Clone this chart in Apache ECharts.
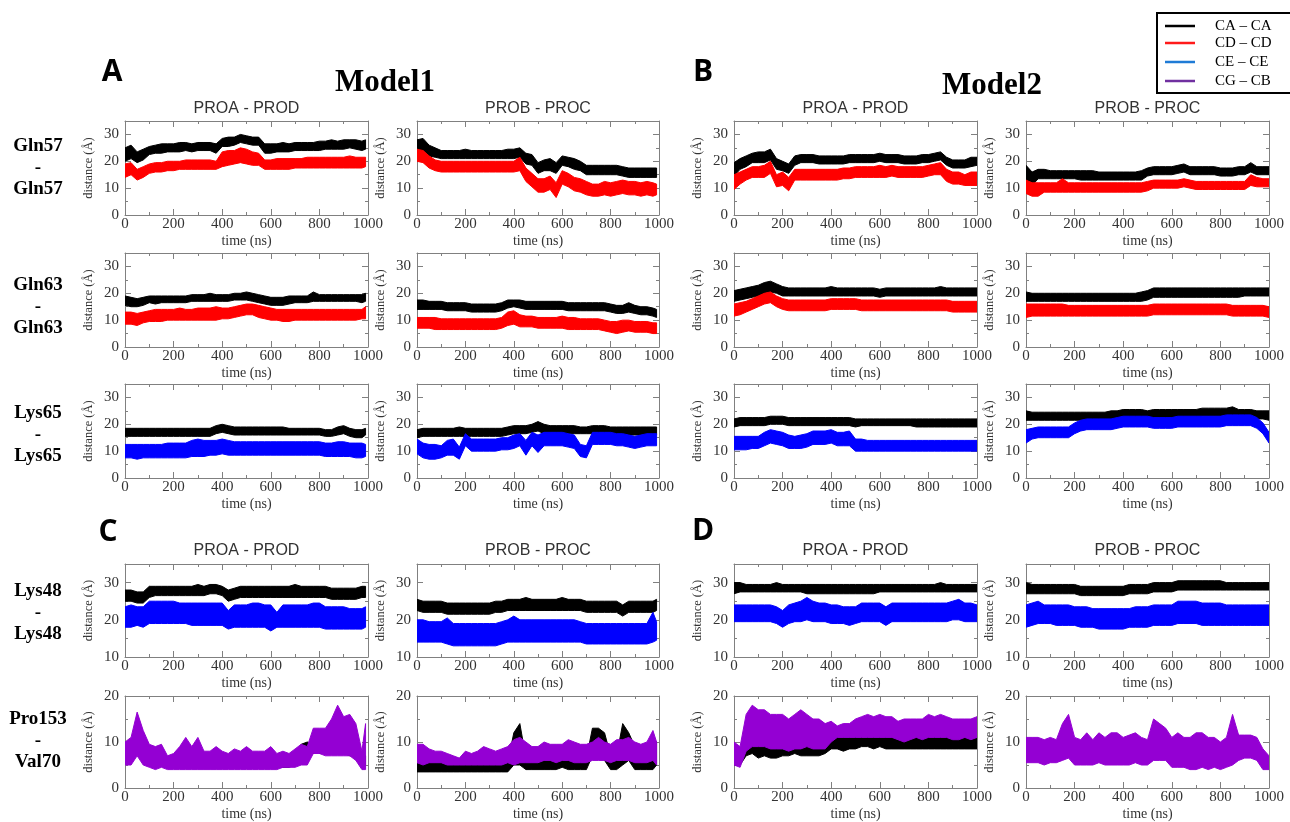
<!DOCTYPE html>
<html>
<head>
<meta charset="utf-8">
<title>Distance traces</title>
<script src="https://cdn.jsdelivr.net/npm/echarts@6/dist/echarts.min.js"></script>
<style>
  html, body { margin: 0; padding: 0; background: #fff; }
  #chart { width: 1290px; height: 822px; }
</style>
</head>
<body>
<div id="chart"></div>
<script>
// sample times (ns); Model1 runs stop a little before 1000
const timesM1 = [0,25,50,75,100,125,150,175,200,225,250,275,300,325,350,375,400,425,450,475,500,525,550,575,600,625,650,675,700,725,750,775,800,825,850,875,900,925,950,975,990];
const timesM2 = [0,25,50,75,100,125,150,175,200,225,250,275,300,325,350,375,400,425,450,475,500,525,550,575,600,625,650,675,700,725,750,775,800,825,850,875,900,925,950,975,1000];

const pairTitles = ['PROA - PROD', 'PROB - PROC'];
const residueLabels = ['Gln57\n-\nGln57', 'Gln63\n-\nGln63', 'Lys65\n-\nLys65', 'Lys48\n-\nLys48', 'Pro153\n-\nVal70'];
const legendNames = ['CA – CA', 'CD – CD', 'CE – CE', 'CG – CB'];
const yRanges = [[0, 35], [0, 35], [0, 35], [10, 35], [0, 20]];

// ---- Gln57 ----
const gln57_m1_ad_ca_lo = [20,21,19.5,20.5,22.5,23,23,23.5,23.5,23.5,24,23.5,24,24,24,23,25.5,25.5,26,27,26.5,26,26,23,23,23.5,23.5,23.5,24,24,24,24,24,24.5,24.5,24.5,24.5,25,24.5,24,24.5];
const gln57_m1_ad_ca_hi = [25,26,23.5,24.5,25.5,26,26.5,26.5,26.5,27,27,26.5,27,27,27,26.5,28.5,29,29,30,29.5,29,29,26.5,26.5,26.5,27,26.5,27,27,27,27,27.5,27.5,28,27.5,28,28,28,27.5,28];
const gln57_m1_ad_cd_lo = [14,15,13,14,15.5,16,16,16.5,16.5,17,17,17,17,17,17,17,18,18.5,19,19.5,19,18.5,18.5,17,17,17,17,17,17.5,17.5,17.5,17.5,17.5,17.5,17.5,17.5,17.5,17.5,17.5,17.5,18];
const gln57_m1_ad_cd_hi = [19,19.5,17,18,19,19.5,19.5,20,20,20,20.5,20.5,20.5,20.5,20.5,20,23.5,24,24,25,24.5,23.5,23,20.5,20.5,21,21,21,21,21,21.5,21.5,21.5,21.5,21.5,21.5,21.5,22,21.5,21.5,21.5];

const gln57_m1_bc_ca_lo = [23,24,22,21.5,21,21,21,21,21,21,21,21,21,21,21,21,21,21.5,19,18.5,15.5,16.5,16.5,15.5,18.5,18,17,16.5,15,15,15,15,15,15,14.5,14,14,14,14,14,14];
const gln57_m1_bc_ca_hi = [28,28.5,26,25,24,24,24,24,24.5,24,24,24,24,24,24,24.5,24.5,25,23,22.5,19.5,20.5,21,19.5,22,21.5,21,20,18.5,18.5,18.5,18.5,18.5,18.5,18,17.5,17.5,17.5,17.5,17.5,17.5];
const gln57_m1_bc_cd_lo = [20,19.5,17.5,16.5,16,16,16,16,16,16,16,16,16,16,16,16,16,16.5,12.5,10.5,8.5,8.5,9.5,6.5,11.5,10.5,9,8.5,7.5,7,7,7.5,7,7.5,8,7.5,7.5,7,7.5,7,7.5];
const gln57_m1_bc_cd_hi = [24.5,24,22,20.5,20,20,20,20,20,20,20,20,20,20,20,20,20,21.5,17.5,15.5,13.5,13.5,14.5,12,16.5,15.5,14,13.5,12.5,11.5,11.5,12.5,12,12.5,13,12.5,12.5,12,12.5,12,11.5];

const gln57_m2_ad_ca_lo = [14.5,17,18,19.5,19.5,19.5,20.5,17,16.5,15.5,18.5,19.5,19.5,19.5,19,19,19,19,19,19.5,19.5,19.5,19.5,19.5,20,19.5,19.5,19.5,19,19,19,19.5,19.5,20,20.5,18.5,17.5,17.5,17.5,18,18.5];
const gln57_m2_ad_ca_hi = [19.5,21,22,23,23.5,23.5,24.5,21,20,19,22,22.5,22.5,22.5,22,22,22,22,22,22.5,22.5,22.5,22.5,22.5,23,22.5,22.5,22.5,22,22,22,22.5,22.5,23,23.5,21.5,20.5,20.5,20.5,21.5,21.5];
const gln57_m2_ad_cd_lo = [9.5,11.5,13,14,14,14,15.5,10.5,11,9,13,13,13,13,13,13,13,13,13.5,13.5,14,14,14,14,14,14,14.5,14,14,14,14,14,14.5,15,15,12.5,11.5,11.5,11,11,11];
const gln57_m2_ad_cd_hi = [15,16,17,18,18,18.5,20,15,16,14,17,17,17,17,17,17,17,17,17.5,17.5,18,18,18,18,18.5,18,18.5,18,18,18,18,18,18.5,19,19.5,17,16,16,15,16,16];

const gln57_m2_bc_ca_lo = [12.5,11,13.5,13.5,13.5,13.5,13.5,13.5,13.5,13,13,13,13,13,13,13,13,13,13,13,14.5,15,15,15,15,15.5,16,15,15,15,15,15,14.5,14.5,14.5,15,15,16,15,15,15];
const gln57_m2_bc_ca_hi = [18.5,16,17,17,16.5,16.5,16.5,16.5,16.5,16.5,16.5,16.5,16,16,16,16,16,16,16,16.5,17.5,18,18,18,18,18.5,19,18,18,18,18,18,17.5,17.5,17.5,18,18,19.5,18,18,18];
const gln57_m2_bc_cd_lo = [8,7,7,8.5,8.5,8.5,8.5,8.5,8.5,8.5,8.5,8.5,8.5,8.5,8.5,8.5,8.5,8.5,8.5,8.5,9,10,10,10,10,10,10.5,10,9.5,9.5,9.5,9.5,9.5,9.5,9.5,9.5,9.5,11,10.5,10.5,10.5];
const gln57_m2_bc_cd_hi = [13,12,12,12,12,12,13.5,12,12,12,12,12,12,12,12,12,12,12,12,12,12.5,13,13,13,13,13,13.5,13,12.5,12.5,12.5,12.5,12.5,12.5,12.5,12.5,12.5,15,14,13.5,13.5];

// ---- Gln63 ----
const gln63_m1_ad_ca_lo = [15.5,15,15,15.5,16.5,16,16.5,16.5,16.5,16.5,16.5,17,17,17,17,17,17,17,17.5,17.5,17.5,17,16.5,16,15.5,15.5,15.5,16,16.5,16.5,16.5,17,17,17,17,17,17,17,17,16.5,17];
const gln63_m1_ad_ca_hi = [19,18.5,18,18.5,19,19,19,19,19,19,19,19.5,19.5,19.5,20,19.5,19.5,19.5,20,20,20.5,20,19.5,19,18.5,18.5,18.5,19,19,19,19,20.5,19.5,19.5,19.5,19.5,19.5,19.5,19.5,19.5,20];
const gln63_m1_ad_cd_lo = [8.5,8.5,8,9,9.5,9.5,9.5,10,10,10,10,10,10,10,10,10,10.5,10.5,11,11.5,12,12,11,10.5,10,10,9.5,9.5,10,10,10,10,10,10,10,10,10,10,10,10.5,10.5];
const gln63_m1_ad_cd_hi = [13,13,12.5,13,13.5,14,14,14,14,14.5,14,14,14.5,14.5,14.5,15,14.5,14.5,15,15.5,16,16,15.5,15,14.5,14,14,14,14,14,14,14,14,14,14,14,14,14,14,14,15];

const gln63_m1_bc_ca_lo = [14,14,14,14,14,13.5,13.5,13.5,13.5,13,13,13,13,13,13.5,14.5,15,14.5,14,14,14,14,14,14,14,13.5,13.5,13.5,13.5,13.5,13.5,13.5,13,12.5,12.5,13,12.5,12,12,11.5,11];
const gln63_m1_bc_ca_hi = [17.5,17.5,17,17,17,16.5,16.5,16.5,16.5,16,16,16,16,16,16.5,17.5,17.5,17.5,17,17,17,17,17,17,17,16.5,16.5,16.5,16.5,16.5,16.5,16.5,16,15.5,15.5,16.5,15.5,15,15,14.5,14];
const gln63_m1_bc_cd_lo = [7,7,7,6.5,6.5,6.5,6.5,6.5,6.5,6.5,6.5,6.5,6.5,6.5,7,8,8.5,7.5,7.5,7.5,7,7,7,7,7,6.5,6.5,6.5,6.5,6.5,6.5,6,5.5,5,5.5,6,5.5,5.5,5.5,5,5];
const gln63_m1_bc_cd_hi = [11,11,11,11,10.5,10.5,10.5,10.5,10.5,10.5,10.5,10.5,10.5,10.5,11,13,13.5,12,11.5,11.5,11,11,11,11,11.5,11,11,10.5,10.5,10.5,10.5,10,9.5,9.5,10,10,9.5,9.5,9.5,9,9];

const gln63_m2_ad_ca_lo = [17,17.5,18,18.5,19,20,20.5,20,19,19,19,19,19,19,19,19,19,19,19,19,19,19,19,19,18.5,19,19,19,19,19,19,19,19,19,19,19,19,19,19,19,19];
const gln63_m2_ad_ca_hi = [21,21.5,22,22.5,23,24,24.5,23.5,22.5,22,22,22,22,22,22,22,22.5,22,22,22,22,22,22,22,21.5,22,22,22,22,22,22,22,22,22,22.5,22,22,22,22,22,22];
const gln63_m2_ad_cd_lo = [11.5,12,13,14,15,16,16.5,15,14,13.5,13.5,13.5,13.5,13.5,13.5,13.5,14,14,14,14,14,13.5,13.5,13.5,13.5,13.5,13.5,13.5,13.5,13.5,13.5,13.5,13.5,13.5,13.5,13.5,13,13,13,13,13];
const gln63_m2_ad_cd_hi = [16,16.5,17,18,19,20,20.5,19,18,17.5,17.5,17.5,17.5,17.5,17.5,17.5,18,18,18,18,18,17.5,17.5,17.5,17.5,17.5,17.5,17.5,17.5,17.5,17.5,17.5,17.5,17.5,17.5,17.5,17,17,17,17,17];

const gln63_m2_bc_ca_lo = [17,17,17,17,17,17,17,17,17,17,17,17,17,17,17,17,17,17,17,17,17.5,18.5,18.5,18.5,18.5,18.5,18.5,18.5,18.5,18.5,18.5,18.5,18.5,18.5,18.5,18.5,19,19,19,19,19];
const gln63_m2_bc_ca_hi = [20.5,20,20,20,20,20,20,20,20,20,20,20,20,20,20,20,20,20,20,20.5,21,22,22,22,22,22,22,22,22,22,22,22,22,22,22,22,22,22,22,22,22];
const gln63_m2_bc_cd_lo = [11,11.5,11.5,11.5,11.5,11.5,11.5,11.5,11.5,11.5,11.5,11.5,11.5,11.5,11.5,11.5,11.5,11.5,11.5,11.5,11.5,12,12,12,12,12,12,12,12,12,12,12,12,12,11.5,11.5,11.5,11.5,11.5,11.5,11];
const gln63_m2_bc_cd_hi = [16,16,16,16,16,16,16,15.5,15.5,15.5,15.5,15.5,15.5,15.5,15.5,15.5,15.5,15.5,15.5,15.5,15.5,16,16,16,16,16,16,16,16,16,16,16,16,16,15.5,15.5,15.5,15.5,15.5,15.5,15];

// ---- Lys65 ----
const lys65_m1_ad_ca_lo = [15.5,15.5,15.5,15.5,15.5,15.5,15.5,15.5,15.5,15.5,15.5,15.5,15.5,15.5,15.5,16.5,17,16.5,16,16,16,16,16,16,16,16,16,16,16,16,16,16,16,15.5,15.5,16,16.5,15.5,15,15,16];
const lys65_m1_ad_ca_hi = [18.5,18.5,18.5,18.5,18.5,18.5,18.5,18.5,18.5,18.5,18.5,18.5,18.5,18.5,18.5,19.5,20,19.5,19,19,19,19,19,19,19,19,19,18.5,18.5,18.5,18.5,18.5,18.5,18,18,19,19.5,18.5,18,18,18.5];
const lys65_m1_ad_ce_lo = [7.5,7.5,7,7.5,7.5,7.5,7.5,7.5,7.5,7.5,7.5,8,8,8,8.5,8.5,9,8.5,8.5,8.5,8.5,8.5,8.5,8.5,8.5,8.5,8.5,8.5,8.5,8.5,8.5,8.5,8.5,8,8,8,8,8,7.5,7.5,8];
const lys65_m1_ad_ce_hi = [12.5,12.5,12.5,12.5,12.5,12.5,12.5,13,13,13,13,14,14.5,14,14,14,14.5,14,13.5,13.5,13.5,13.5,13.5,13.5,13.5,13.5,13.5,13.5,13.5,13.5,13.5,13.5,13.5,13,13,13.5,13.5,13,13,13,12.5];

const lys65_m1_bc_ca_lo = [15,15.5,15.5,15.5,15.5,15.5,15.5,15.5,15.5,15.5,15.5,15.5,15.5,15.5,15.5,16,16.5,16.5,16.5,17,17.5,16.5,16.5,16.5,16.5,16.5,16.5,16.5,16.5,16.5,16.5,16.5,16.5,16,16,16,16,16,16,16,16];
const lys65_m1_bc_ca_hi = [18,18.5,18.5,18.5,18.5,18.5,18.5,19,18.5,18.5,18.5,18.5,18.5,18.5,18.5,19,19.5,19.5,19.5,20,21,20,19.5,19.5,19.5,19.5,19.5,19,19,19.5,19.5,19.5,19,19,19,19,19,19,19,19,19];
const lys65_m1_bc_ce_lo = [9,7.5,7,7,7.5,8.5,8.5,7,12,10,10,10,10,10,10.5,10.5,11,12,8.5,12,9.5,12,12,12,12,11.5,11,8,7.5,12.5,12.5,12.5,12.5,12,12,11.5,11,11.5,12,12,12];
const lys65_m1_bc_ce_hi = [14.5,13,12.5,12.5,12,14,14.5,11.5,16.5,14.5,14.5,14.5,14.5,14.5,15,15,16,16.5,14,17,16,17,17,17,17,16.5,16,12.5,12,17,17,17,17,16.5,16.5,16,15.5,16,16.5,16.5,16.5];

const lys65_m2_ad_ca_lo = [19,19.5,19.5,19.5,19.5,19.5,20,20,20,19.5,19.5,19.5,19.5,19.5,19.5,19.5,19.5,19.5,19.5,19.5,19,19.5,19.5,19.5,19.5,19.5,19.5,19.5,19.5,19.5,19,19,19,19,19,19,19,19,19,19,19];
const lys65_m2_ad_ca_hi = [22,22.5,22.5,22.5,22.5,22.5,23,23,23,22.5,22.5,22.5,22.5,22.5,22.5,22.5,22.5,22.5,22.5,22.5,22,22,22,22,22,22,22,22,22,22,22,22,22,22,22,22,22,22,22,22,22];
const lys65_m2_ad_ce_lo = [10.5,10.5,10.5,11,11,12,13,12.5,12,11,11,11,11.5,12.5,12.5,12.5,13,12,12,12,10,10,10,10,10,10,10,10,10,10,10,10,10,10,10,10,10,10,10,10,10];
const lys65_m2_ad_ce_hi = [15.5,15.5,15.5,15.5,15.5,17,18,17.5,17,16,15.5,16,16.5,17.5,17.5,17.5,18,17,17,17.5,14.5,14.5,14,14,14,14,14,14,14,14,14,14,14,14,14,14,14,14,14,14,14];

const lys65_m2_bc_ca_lo = [21.5,21.5,21.5,21.5,21.5,21.5,21.5,21.5,21.5,21.5,21.5,21.5,21.5,21.5,21.5,22,22.5,22.5,22.5,22.5,22,22.5,22.5,22.5,22.5,22.5,22.5,22.5,22.5,23,23,23,23,23,23,22.5,22.5,22.5,22,22,21.5];
const lys65_m2_bc_ca_hi = [25,24.5,24.5,24.5,24.5,24.5,24.5,24.5,24.5,24.5,24.5,24.5,24.5,24.5,25,25,25.5,25.5,25.5,25.5,25,25.5,25.5,25.5,25.5,25.5,25.5,25.5,25.5,26,26,26,26,26,26.5,25.5,25.5,25.5,25,25,25];
const lys65_m2_bc_ce_lo = [13,14.5,15,15,15,15,15,15,16.5,17.5,18,18,18,18,18,18.5,19,19,19,19,19,18.5,18.5,18.5,18.5,19,19,19,19,19,19,19,19,19.5,19.5,19.5,19.5,19.5,18.5,16.5,13];
const lys65_m2_bc_ce_hi = [18,18.5,19,19,19,19,19,19,20.5,21.5,22,22,22,22,22,22.5,23,23,23,23,23,22.5,22.5,22.5,22.5,23,23,23,23,23,23,23,23,23.5,23.5,23.5,23.5,23.5,22.5,20.5,17];

// ---- Lys48 ----
const lys48_m1_ad_ca_lo = [25,25,24.5,24.5,26,26.5,26.5,26.5,26.5,26.5,26.5,26.5,26.5,26.5,27,27,26.5,25,25.5,26,26,26,26,26,26,26,26,26,26,26,26,26,26,26,25.5,25.5,25.5,25.5,25.5,26,26];
const lys48_m1_ad_ca_hi = [28,28,27.5,27.5,29,29,29,29,29,29,29,29,29.5,29,29.5,29.5,29,28,28.5,29,29,29,29,29,29,29,29,29,29.5,29,29,29,29,29,28.5,28.5,28.5,28.5,28.5,29,29];
const lys48_m1_ad_ce_lo = [18,18,18.5,18,19,19,19,19,19,19,19,18.5,18.5,18.5,18.5,18.5,18.5,17.5,18,18,18,18,18,18,17,18,18,18,18,18,18,18,18,17.5,17.5,17.5,17.5,17.5,17.5,17.5,18];
const lys48_m1_ad_ce_hi = [23.5,24,23.5,23.5,25,25,25,25,25,24.5,24.5,24.5,24.5,24.5,24.5,24.5,24.5,22.5,24,24,24,24.5,24.5,24,24,22,24,24,24,24,24,24.5,24.5,23.5,23.5,23.5,23.5,23,23,23,23.5];

const lys48_m1_bc_ca_lo = [22.5,22,22,22,22,21.5,21.5,21.5,21.5,21.5,21.5,21.5,21.5,22,22,22.5,22.5,22.5,22.5,22.5,22.5,22.5,22.5,22.5,22.5,22.5,22.5,22.5,22,22,22,22,22,22,21,22,22,22,22,22,22.5];
const lys48_m1_bc_ca_hi = [25.5,25,25,25,25,24.5,24.5,24.5,24.5,24.5,24.5,24.5,24.5,25,25,25.5,25.5,25.5,26,25.5,25.5,25.5,25.5,25.5,26,25.5,25.5,25.5,25,25,25,25,25,25,24,25,25,25,25,25,25.5];
const lys48_m1_bc_ce_lo = [14,14,14,14,14,13.5,13,13,13,13,13,13,13,13,13.5,14,14,14,14,14,14,14,14,14,14,14,14,14,13.5,13.5,13.5,13.5,13.5,13.5,13.5,13.5,13.5,13.5,13.5,14,14.5];
const lys48_m1_bc_ce_hi = [20,20,19.5,19.5,19.5,20.5,19,19,19,19,19,19,19,19,19.5,20,21,20,20,20,20,20,20,20,20,20,20,19.5,19,19,19,19,19,19,19,19,19,19,19,22,19.5];

const lys48_m2_ad_ca_lo = [27,27.5,27.5,27.5,27.5,27.5,27.5,27.5,27.5,27.5,27.5,27.5,27,27,27,27,27,27,27,27,27,27,27,27,27.5,27.5,27.5,27.5,27.5,27.5,27.5,27.5,27.5,27.5,27.5,27.5,27.5,27.5,27.5,27.5,27.5];
const lys48_m2_ad_ca_hi = [30,30,29.5,29.5,29.5,29.5,29.5,30,29.5,29.5,29.5,29.5,29.5,29.5,29.5,29.5,29.5,29.5,29.5,29.5,29.5,29.5,29.5,29.5,29.5,29.5,29.5,29.5,29.5,29.5,29.5,29.5,29.5,29.5,30,29.5,29.5,29.5,29.5,29.5,29.5];
const lys48_m2_ad_ce_lo = [19.5,19.5,19.5,19.5,19.5,19.5,19.5,19,18,19,19.5,19.5,20,19.5,19.5,19.5,19,19,19,18.5,19,19.5,19.5,19.5,19.5,18.5,19.5,19.5,19.5,19.5,19.5,19.5,19.5,19.5,19.5,19.5,20,20,19.5,19.5,19.5];
const lys48_m2_ad_ce_hi = [24,24,24,24,24,24,24,23.5,22.5,24,24.5,25,26,25,24.5,24.5,24,24,23.5,23.5,23.5,24.5,24.5,24.5,24.5,23.5,24.5,24.5,24.5,24.5,24.5,24.5,24.5,24.5,24.5,24.5,25,25.5,24.5,24.5,24];

const lys48_m2_bc_ca_lo = [27,27,27,27,27,27,27,27,27,26.5,26.5,26.5,26.5,26.5,26.5,26.5,26.5,27,27,27,27,27.5,27.5,27.5,27.5,28,28,28,28,28,28,28,28,28,28,28,28,28,28,28,28];
const lys48_m2_bc_ca_hi = [30,29.5,29.5,29.5,29.5,29.5,29.5,29.5,29.5,29,29,29,29,29,29,29,29,29.5,29.5,29.5,29.5,30,30,30,30,30.5,30.5,30.5,30.5,30.5,30.5,30.5,30.5,30,30,30,30,30,30,30,30];
const lys48_m2_bc_ce_lo = [18,18.5,19,19,19,18.5,18.5,18.5,18.5,18,18,18,17.5,17.5,17.5,17.5,17.5,18,18,18,18,18.5,18.5,18.5,18.5,19,19,19,19,18.5,18.5,18.5,18.5,18.5,18.5,18.5,18.5,18.5,18.5,18.5,18.5];
const lys48_m2_bc_ce_hi = [24,24.5,25,24,24,24,24,24,23.5,23.5,23.5,23,23,23,23,23,23,23,23.5,23.5,23.5,24,24,24,24,25,25,25,25,24.5,24.5,24.5,24.5,24,24,24,24,24,24,24,24];

// ---- Pro153 - Val70 ----
const pro153_m1_ad_ca_lo = [6.5,7.5,8,7,6,5,5,4.5,5,5.5,5,4.5,4.5,4.5,4.5,4.5,4.5,4.5,4.5,4.5,4.5,4.5,4.5,4.5,4.5,4.5,4.5,4.5,5,7,8,7.5,7.5,7.5,7.5,7.5,7.5,7,7,5,5];
const pro153_m1_ad_ca_hi = [9.5,10,10.5,9.5,8,7,7,6.5,7,7.5,7,6.5,6.5,6.5,6.5,6.5,6.5,6.5,6.5,6.5,6.5,6.5,6.5,6.5,6.5,6.5,6.5,6.5,7,9.5,10,9.5,9.5,9.5,9.5,9.5,9.5,9,9,7,7];
const pro153_m1_ad_cg_lo = [5,5,7,5,4.5,4,4.5,4,4,4,4,4,4,4,4,4,4,4,4,4,4,4,4,4,4,4,4.5,4.5,4.5,5,5,7.5,7.5,7,7,7,7,7,6,4,4];
const pro153_m1_ad_cg_hi = [10,11,16.5,12.5,9.5,9,9.5,7,7.5,9,11,9,11,8,8,9,8,7.5,8.5,8,9,8,8,8,9,7.5,8,7.5,8.5,9.5,9,13,13,13,15,18,15.5,16,14,8,14];

const pro153_m1_bc_ca_lo = [3.5,3.5,3.5,3.5,3.5,3.5,3.5,3.5,3.5,3.5,3.5,3.5,3.5,3.5,3.5,3.5,5,5,4,4,4,4,4,4,4.5,4,4,4,4,7,7,6,4,4,5,6,4,4,4,4,5];
const pro153_m1_bc_ca_hi = [5.5,5.5,5.5,5.5,5.5,5.5,5.5,5.5,5.5,5.5,5.5,5.5,5.5,5.5,5.5,5.5,12,14,6.5,6.5,6.5,6.5,6.5,6.5,7,6.5,6.5,6.5,6.5,13,13,12,7,7,14,12,9,8,8,11,10];
const pro153_m1_bc_cg_lo = [5.5,5,5.5,5.5,5.5,5,5,5,5,5,5,5,5,5,5,5.5,5,5.5,5.5,5.5,5.5,6,6,5.5,6,6,5.5,5.5,5.5,6,6,6,5.5,6,6,6,5.5,5.5,5.5,6,5];
const pro153_m1_bc_cg_hi = [9.5,9.5,8.5,8,8,7.5,7,6.5,8,7.5,8,9,8.5,8,8.5,9,10.5,11,10,9,9,10,9.5,9.5,9.5,10.5,10,9.5,9.5,10,11,10,9.5,10.5,10.5,11,10,9.5,10,12.5,10];

const pro153_m2_ad_ca_lo = [5,5,7,7.5,6.5,7,6.5,6.5,7,7,7.5,7,7,7,7,7.5,8.5,8.5,8,8.5,8.5,9,9,8.5,9,8.5,8.5,8.5,8.5,8.5,8.5,8.5,8.5,8.5,8.5,8.5,8.5,8.5,8.5,8.5,8.5];
const pro153_m2_ad_ca_hi = [9,8,10,11,10,10,9.5,9.5,10,10,10.5,10.5,11,10,10,10,12,11.5,11,11,11.5,12,12,11.5,12,11.5,11.5,11.5,11.5,11.5,11.5,11.5,11.5,11.5,11.5,11.5,11.5,11.5,11.5,11.5,11.5];
const pro153_m2_ad_cg_lo = [5,4.5,8,9,9,9,8.5,8.5,8.5,8,8.5,8.5,9,8.5,8.5,8.5,10,11,11,11,11,11,11,11,11,11,11,10.5,10,10.5,11,10.5,11,11,11,11,10.5,10.5,11,10.5,11];
const pro153_m2_ad_cg_hi = [10,9,16,18,17,17,16,16,16,15,16,17,16,15,15,14,14.5,13.5,14,14,15,15.5,16,15.5,16,15.5,15.5,14.5,15,15,15,15,16,15.5,16,15.5,15,15,15,15,15.5];

const pro153_m2_bc_ca_lo = [6,6,6,6,6,6,6.5,7,6,6,6,6,6,6,6,6,6,6,6,6,6,7,7,8.5,8,6,6,5.5,5.5,5.5,5.5,5.5,5,5.5,6,6.5,7,7,6.5,5,4.5];
const pro153_m2_bc_ca_hi = [9,9,9,9,9,9,10,11,9,9,9,9,9,9,9,9,9,9,9,9,9,11,11,10.5,10,9,9,8.5,8.5,8.5,8.5,8.5,8,8.5,9,10,10,10,9.5,7.5,6.5];
const pro153_m2_bc_cg_lo = [5.5,5.5,5.5,5,5.5,5.5,6,6.5,5,5,5,5,5.5,5,5,5,5,5,5.5,5,5,6,6,6,4.5,4.5,4.5,4,4,4.5,4,4.5,4,4.5,5,6,6.5,6.5,6,4,4];
const pro153_m2_bc_cg_hi = [11,11,11,10.5,11,10.5,14,16,11,10.5,12,10.5,12,11,12,12,11,11.5,12,11,10.5,15,14,13,11,12,11,11,12,12,11,11,10,11,16,11.5,11.5,11.5,11,8.5,7];

const BLACK = '#000000';
const RED = '#ff0000';
const BLUE = '#0000ff';
const PURPLE = '#9400d3';

// row, column, times, bands [lo, hi, colour]
const panels = [
  [0, 0, timesM1, [[gln57_m1_ad_ca_lo, gln57_m1_ad_ca_hi, BLACK], [gln57_m1_ad_cd_lo, gln57_m1_ad_cd_hi, RED]]],
  [0, 1, timesM1, [[gln57_m1_bc_ca_lo, gln57_m1_bc_ca_hi, BLACK], [gln57_m1_bc_cd_lo, gln57_m1_bc_cd_hi, RED]]],
  [0, 2, timesM2, [[gln57_m2_ad_ca_lo, gln57_m2_ad_ca_hi, BLACK], [gln57_m2_ad_cd_lo, gln57_m2_ad_cd_hi, RED]]],
  [0, 3, timesM2, [[gln57_m2_bc_ca_lo, gln57_m2_bc_ca_hi, BLACK], [gln57_m2_bc_cd_lo, gln57_m2_bc_cd_hi, RED]]],
  [1, 0, timesM1, [[gln63_m1_ad_ca_lo, gln63_m1_ad_ca_hi, BLACK], [gln63_m1_ad_cd_lo, gln63_m1_ad_cd_hi, RED]]],
  [1, 1, timesM1, [[gln63_m1_bc_ca_lo, gln63_m1_bc_ca_hi, BLACK], [gln63_m1_bc_cd_lo, gln63_m1_bc_cd_hi, RED]]],
  [1, 2, timesM2, [[gln63_m2_ad_ca_lo, gln63_m2_ad_ca_hi, BLACK], [gln63_m2_ad_cd_lo, gln63_m2_ad_cd_hi, RED]]],
  [1, 3, timesM2, [[gln63_m2_bc_ca_lo, gln63_m2_bc_ca_hi, BLACK], [gln63_m2_bc_cd_lo, gln63_m2_bc_cd_hi, RED]]],
  [2, 0, timesM1, [[lys65_m1_ad_ca_lo, lys65_m1_ad_ca_hi, BLACK], [lys65_m1_ad_ce_lo, lys65_m1_ad_ce_hi, BLUE]]],
  [2, 1, timesM1, [[lys65_m1_bc_ca_lo, lys65_m1_bc_ca_hi, BLACK], [lys65_m1_bc_ce_lo, lys65_m1_bc_ce_hi, BLUE]]],
  [2, 2, timesM2, [[lys65_m2_ad_ca_lo, lys65_m2_ad_ca_hi, BLACK], [lys65_m2_ad_ce_lo, lys65_m2_ad_ce_hi, BLUE]]],
  [2, 3, timesM2, [[lys65_m2_bc_ca_lo, lys65_m2_bc_ca_hi, BLACK], [lys65_m2_bc_ce_lo, lys65_m2_bc_ce_hi, BLUE]]],
  [3, 0, timesM1, [[lys48_m1_ad_ca_lo, lys48_m1_ad_ca_hi, BLACK], [lys48_m1_ad_ce_lo, lys48_m1_ad_ce_hi, BLUE]]],
  [3, 1, timesM1, [[lys48_m1_bc_ca_lo, lys48_m1_bc_ca_hi, BLACK], [lys48_m1_bc_ce_lo, lys48_m1_bc_ce_hi, BLUE]]],
  [3, 2, timesM2, [[lys48_m2_ad_ca_lo, lys48_m2_ad_ca_hi, BLACK], [lys48_m2_ad_ce_lo, lys48_m2_ad_ce_hi, BLUE]]],
  [3, 3, timesM2, [[lys48_m2_bc_ca_lo, lys48_m2_bc_ca_hi, BLACK], [lys48_m2_bc_ce_lo, lys48_m2_bc_ce_hi, BLUE]]],
  [4, 0, timesM1, [[pro153_m1_ad_ca_lo, pro153_m1_ad_ca_hi, BLACK], [pro153_m1_ad_cg_lo, pro153_m1_ad_cg_hi, PURPLE]]],
  [4, 1, timesM1, [[pro153_m1_bc_ca_lo, pro153_m1_bc_ca_hi, BLACK], [pro153_m1_bc_cg_lo, pro153_m1_bc_cg_hi, PURPLE]]],
  [4, 2, timesM2, [[pro153_m2_ad_ca_lo, pro153_m2_ad_ca_hi, BLACK], [pro153_m2_ad_cg_lo, pro153_m2_ad_cg_hi, PURPLE]]],
  [4, 3, timesM2, [[pro153_m2_bc_ca_lo, pro153_m2_bc_ca_hi, BLACK], [pro153_m2_bc_cg_lo, pro153_m2_bc_cg_hi, PURPLE]]],
];

// layout (px)
const colLeft = [125, 417, 734, 1026];
const colWidth = [243, 242, 243, 243];
const rowTop = [121, 253, 384, 564, 696];
const rowHeight = [94, 94, 94, 93, 93];
const rowLabelY = [168, 307, 435, 613, 741];

const AXIS_GREY = '#808080';
const TEXT = '#333333';
const SERIF = '"Liberation Serif", "Times New Roman", serif';

function axisCommon() {
  return {
    type: 'value',
    axisLine: { show: true, onZero: false, lineStyle: { color: AXIS_GREY, width: 1 } },
    axisTick: { show: true, inside: true, length: 6, lineStyle: { color: AXIS_GREY } },
    minorTick: { show: true, splitNumber: 2, length: 3, lineStyle: { color: AXIS_GREY } },
    splitLine: { show: false },
  };
}

function bandSeries(i, times, lo, hi, color) {
  return {
    type: 'custom',
    xAxisIndex: i * 2,
    yAxisIndex: i * 2,
    clip: true,
    silent: true,
    data: times.map((t, k) => [t, lo[k], hi[k]]),
    renderItem(params, api) {
      if (params.dataIndexInside !== 0) return null;
      const n = params.dataInsideLength;
      const top = [];
      const bottom = [];
      for (let k = 0; k < n; k++) {
        const t = api.value(0, k);
        top.push(api.coord([t, api.value(2, k)]));
        bottom.push(api.coord([t, api.value(1, k)]));
      }
      return {
        type: 'polygon',
        shape: { points: top.concat(bottom.reverse()) },
        style: { fill: color, stroke: color, lineWidth: 1 },
      };
    },
  };
}

const grid = [];
const xAxis = [];
const yAxis = [];
const series = [];

panels.forEach(([row, col, times, bands], i) => {
  const [ymin, ymax] = yRanges[row];
  grid.push({ left: colLeft[col], top: rowTop[row], width: colWidth[col], height: rowHeight[row] });
  xAxis.push(Object.assign(axisCommon(), {
    gridIndex: i, position: 'bottom', min: 0, max: 1000, interval: 200,
    axisLabel: { color: TEXT, fontFamily: SERIF, fontSize: 15, margin: 2, formatter: (v) => String(v) },
    name: 'time (ns)', nameLocation: 'middle', nameGap: 19,
    nameTextStyle: { color: TEXT, fontFamily: SERIF, fontSize: 14 },
  }));
  xAxis.push(Object.assign(axisCommon(), {
    gridIndex: i, position: 'top', min: 0, max: 1000, interval: 200,
    axisLabel: { show: false },
  }));
  yAxis.push(Object.assign(axisCommon(), {
    gridIndex: i, position: 'left', min: ymin, max: ymax, interval: 10,
    axisLabel: {
      color: TEXT, fontFamily: SERIF, fontSize: 15, margin: 6,
      formatter: (v) => (v % 10 === 0 ? String(v) : ''),
    },
    name: 'distance (Å)', nameLocation: 'middle', nameGap: 30,
    nameTextStyle: { color: TEXT, fontFamily: SERIF, fontSize: 12.5 },
  }));
  yAxis.push(Object.assign(axisCommon(), {
    gridIndex: i, position: 'right', min: ymin, max: ymax, interval: 10,
    axisLabel: { show: false },
  }));
  bands.forEach(([lo, hi, color]) => series.push(bandSeries(i, times, lo, hi, color)));
});

function text(x, y, str, font, opts) {
  return {
    type: 'text', x: x, y: y, silent: true,
    style: Object.assign({
      text: str, font: font, fill: '#000',
      align: 'center', verticalAlign: 'middle',
      textAlign: 'center', textVerticalAlign: 'middle',
    }, opts || {}),
  };
}

const graphic = [];
// panel letters and model titles
const LETTER_FONT = 'bold 30px "Open Sans", "DejaVu Sans", sans-serif';
graphic.push(text(112, 72, 'A', LETTER_FONT));
graphic.push(text(703, 72, 'B', LETTER_FONT));
graphic.push(text(108, 532, 'C', LETTER_FONT));
graphic.push(text(703, 531, 'D', LETTER_FONT));
graphic.push(text(385, 83, 'Model1', 'bold 31px ' + SERIF));
graphic.push(text(992, 86, 'Model2', 'bold 31px ' + SERIF));

// pair titles above rows 1 and 4
[[0, 109], [3, 551]].forEach(([row, y]) => {
  for (let c = 0; c < 4; c++) {
    graphic.push(text(colLeft[c] + colWidth[c] / 2, y, pairTitles[c % 2],
      '16px "Liberation Sans", Arial, sans-serif', { fill: TEXT }));
  }
});

// residue labels on the left
residueLabels.forEach((lab, r) => {
  graphic.push(text(38, rowLabelY[r], lab, 'bold 19px ' + SERIF, { lineHeight: 21.5 }));
});

// legend box, top right
const legendColors = ['#000000', '#ff1a1a', '#1f7bd6', '#7030a0'];
const legendY = [26, 43, 62, 81];
graphic.push({
  type: 'rect', silent: true,
  shape: { x: 1157, y: 13, width: 135, height: 80 },
  style: { fill: '#fff', stroke: '#000', lineWidth: 2 },
});
legendNames.forEach((name, k) => {
  graphic.push({
    type: 'line', silent: true,
    shape: { x1: 1165, y1: legendY[k], x2: 1195, y2: legendY[k] },
    style: { stroke: legendColors[k], lineWidth: 2.5 },
  });
  graphic.push(text(1215, legendY[k], name, '15px ' + SERIF,
    { align: 'left', textAlign: 'left' }));
});

const chart = echarts.init(document.getElementById('chart'));
chart.setOption({
  backgroundColor: '#ffffff',
  animation: false,
  grid: grid,
  xAxis: xAxis,
  yAxis: yAxis,
  series: series,
  graphic: graphic,
});
window.addEventListener('resize', () => {
  chart.resize();
});
</script>
</body>
</html>
